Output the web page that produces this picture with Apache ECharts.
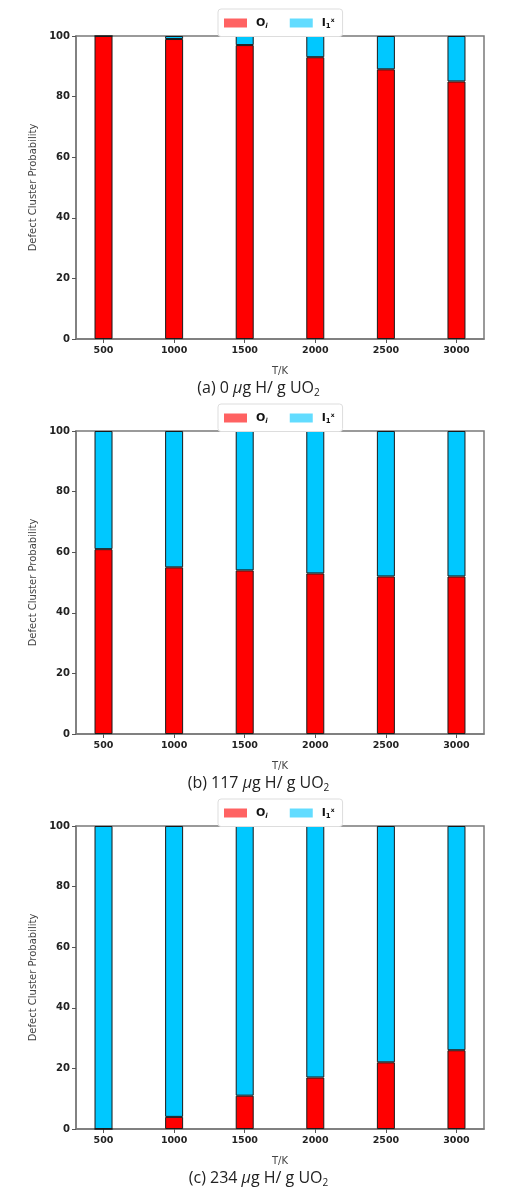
<!DOCTYPE html>
<html>
<head>
<meta charset="utf-8">
<script src="https://cdn.jsdelivr.net/npm/echarts@6/dist/echarts.min.js"></script>
<style>html,body{margin:0;padding:0;background:#fff;}#c{width:517px;height:1204px;}</style>
</head>
<body>
<div id="c"></div>
<script>
const temps = [500, 1000, 1500, 2000, 2500, 3000];
const oiA = [100, 99, 97, 93, 89, 85];
const oiB = [61, 55, 54, 53, 52, 52];
const oiC = [0, 4, 11, 17, 22, 26];
const yTicks = [0, 20, 40, 60, 80, 100];
const captions = [['(a) 0 ', 'g H/ g UO'], ['(b) 117 ', 'g H/ g UO'], ['(c) 234 ', 'g H/ g UO']];
const panels = [oiA, oiB, oiC];

const chart = echarts.init(document.getElementById('c'), null, {renderer: 'canvas'});
const tops = [36, 431, 826];
const H = 303;
const grids = [], xAxes = [], yAxes = [], series = [], legends = [], titles = [];
const legendRich = {
  o: {fontWeight: 'bold', fontSize: 11, color: '#111', fontFamily: 'DejaVu Sans'},
  s: {fontStyle: 'italic', fontWeight: 'bold', fontSize: 7, color: '#111', padding: [6, 0, 0, 0], fontFamily: 'DejaVu Sans'},
  n: {fontWeight: 'bold', fontSize: 7, color: '#111', padding: [6, 0, 0, 0], fontFamily: 'DejaVu Sans'},
  x: {fontWeight: 'bold', fontSize: 6, color: '#111', padding: [0, 0, 6, 0], fontFamily: 'DejaVu Sans'}
};
panels.forEach((oi, k) => {
  const rest = oi.map(v => 100 - v);
  grids.push({left: 76, width: 408, top: tops[k], height: H, show: true, borderColor: '#7a7a7a', borderWidth: 1.5, backgroundColor: 'transparent'});
  xAxes.push({
    type: 'value', gridIndex: k, min: 305, max: 3195,
    name: 'T/K', nameLocation: 'middle', nameGap: 27,
    nameTextStyle: {fontSize: 10, color: '#444', fontFamily: 'DejaVu Sans'},
    axisLine: {show: true, lineStyle: {color: '#7a7a7a', width: 1.5}},
    axisTick: {show: true, customValues: temps, length: 4, lineStyle: {color: '#555'}},
    axisLabel: {customValues: temps, formatter: v => String(v), fontWeight: 'bold', fontSize: 9.5, color: '#222', margin: 7, fontFamily: 'DejaVu Sans'},
    splitLine: {show: false}
  });
  yAxes.push({
    type: 'value', gridIndex: k, min: 0, max: 100, interval: 20,
    name: 'Defect Cluster Probability', nameLocation: 'middle', nameGap: 38,
    nameTextStyle: {fontSize: 10, color: '#444', fontFamily: 'DejaVu Sans'},
    axisLine: {show: true, lineStyle: {color: '#7a7a7a', width: 1.5}},
    axisTick: {show: true, length: 4, lineStyle: {color: '#555'}},
    axisLabel: {fontWeight: 'bold', fontSize: 10, color: '#222', margin: 6, fontFamily: 'DejaVu Sans'},
    splitLine: {show: false}
  });
  series.push({
    name: 'Oi', type: 'bar', xAxisIndex: k, yAxisIndex: k, stack: 's' + k, barWidth: 18,
    encode: {x: 1, y: 0},
    data: temps.map((t, i) => [oi[i], t]),
    itemStyle: {color: '#ff0000', borderColor: '#1a1a1a', borderWidth: 1}
  });
  series.push({
    name: 'I1x', type: 'bar', xAxisIndex: k, yAxisIndex: k, stack: 's' + k, barWidth: 18,
    encode: {x: 1, y: 0},
    data: temps.map((t, i) => [rest[i], t]),
    itemStyle: {color: '#00c8ff', borderColor: '#1a1a1a', borderWidth: 1}
  });
  legends.push({
    top: tops[k] - 27, left: 218, orient: 'horizontal',
    backgroundColor: '#fff', borderColor: '#dddddd', borderWidth: 1, borderRadius: 3,
    padding: [8, 8, 7, 6], itemGap: 22, itemWidth: 23, itemHeight: 9, icon: 'rect',
    data: [
      {name: 'Oi', itemStyle: {color: '#ff6262', borderWidth: 0}},
      {name: 'I1x', itemStyle: {color: '#62dcff', borderWidth: 0}}
    ],
    formatter: n => n === 'Oi' ? '{o|O}{s|i}' : '{o|I}{n|1}{x|x}',
    textStyle: {rich: legendRich, padding: [0, 0, 0, 4]},
    selectedMode: false
  });
  titles.push({
    text: '{t|' + captions[k][0] + '}{m|μ}{t|' + captions[k][1] + '}{sub|2}',
    left: 'center', top: tops[k] + H + 34,
    textStyle: {fontWeight: 'normal', rich: {
      t: {fontSize: 16, color: '#222', fontWeight: 'normal', fontFamily: 'Open Sans'},
      m: {fontSize: 16, color: '#222', fontWeight: 'normal', fontStyle: 'italic', fontFamily: 'Open Sans'},
      sub: {fontSize: 10, color: '#222', fontWeight: 'normal', fontFamily: 'Open Sans', padding: [10, 0, 0, 0]}
    }}
  });
});

chart.setOption({
  animation: false,
  title: titles,
  legend: legends,
  grid: grids,
  xAxis: xAxes,
  yAxis: yAxes,
  series: series
});
</script>
</body>
</html>
